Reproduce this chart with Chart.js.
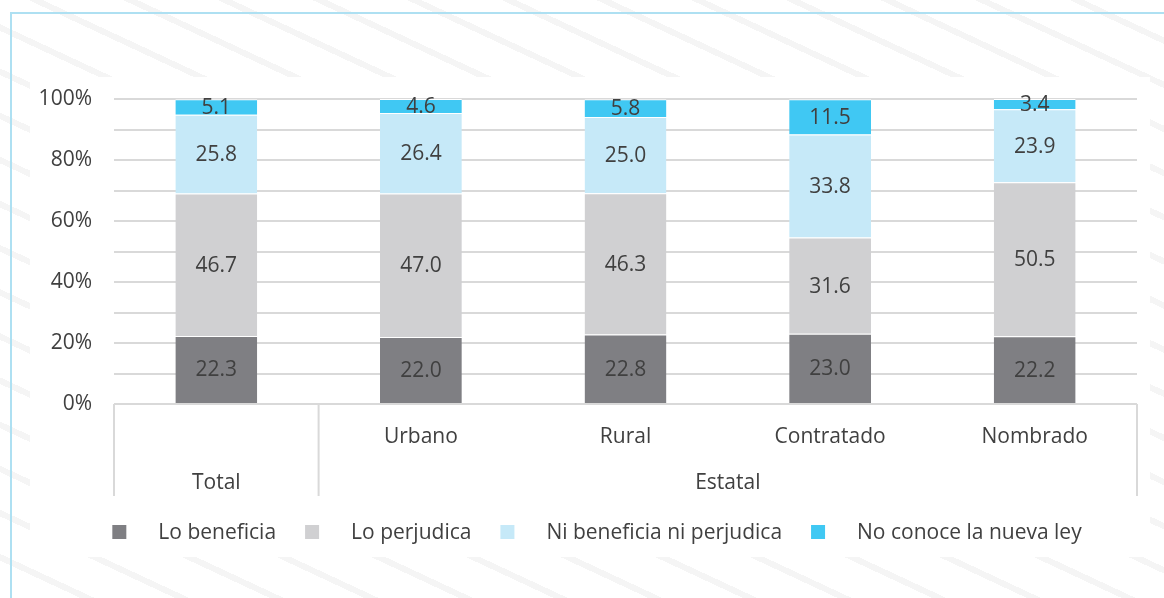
<!DOCTYPE html>
<html>
<head>
<meta charset="utf-8">
<script src="https://cdn.jsdelivr.net/npm/chart.js@4"></script>
<style>
  html, body { margin: 0; padding: 0; }
  body {
    width: 1164px; height: 598px; overflow: hidden; position: relative;
    background: repeating-linear-gradient(25deg, #ffffff 0px, #ffffff 34px, #f5f5f5 34px, #f5f5f5 40px);
  }
  #frame { position: absolute; left: 10px; top: 12px; width: 1200px; height: 700px; border: 2px solid #aee0f2; box-sizing: border-box; }
  #panel { position: absolute; left: 30px; top: 77px; width: 1120px; height: 480px; background: #ffffff; }
  #wrap { position: absolute; left: 0; top: 0; width: 1164px; height: 598px; }
</style>
</head>
<body>
<div id="frame"></div>
<div id="panel"></div>
<div id="wrap"><canvas id="chart" width="1164" height="598"></canvas></div>
<script>
// --- data ---
const categories = ['', 'Urbano', 'Rural', 'Contratado', 'Nombrado'];
const groupLabels = ['Total', 'Estatal'];
const groupSpans = [1, 4];

const seriesNames = ['Lo beneficia', 'Lo perjudica', 'Ni beneficia ni perjudica', 'No conoce la nueva ley'];
const loBeneficia = [22.3, 22.0, 22.8, 23.0, 22.2];
const loPerjudica = [46.7, 47.0, 46.3, 31.6, 50.5];
const niBeneficia = [25.8, 26.4, 25.0, 33.8, 23.9];
const noConoce = [5.1, 4.6, 5.8, 11.5, 3.4];
const seriesColors = ['#7f7f83', '#d0d0d2', '#c6e9f8', '#40c8f3'];

const textColor = '#404040';
const fontFamily = '"Open Sans", sans-serif';
const fontSize = 21;

// values drawn in the middle of each segment
const segmentLabels = {
    id: 'segmentLabels',
    afterDatasetsDraw(chart) {
        const ctx = chart.ctx;
        ctx.save();
        ctx.font = `${fontSize}px ${fontFamily}`;
        ctx.fillStyle = textColor;
        ctx.textAlign = 'center';
        ctx.textBaseline = 'middle';
        chart.data.datasets.forEach((ds, i) => {
            chart.getDatasetMeta(i).data.forEach((bar, j) => {
                ctx.fillText(ds.data[j].toFixed(1), bar.x, (bar.y + bar.base) / 2 + 1);
            });
        });
        ctx.restore();
    }
};

// second row of the category axis (Total / Estatal) and its separators
const groupAxis = {
    id: 'groupAxis',
    afterDraw(chart) {
        const ctx = chart.ctx;
        const x = chart.scales.x;
        const top = chart.chartArea.bottom;
        const bottom = x.bottom;
        ctx.save();
        ctx.strokeStyle = '#d9d9d9';
        ctx.lineWidth = 2;
        let start = 0;
        const edges = [x.getPixelForValue(-0.5)];
        groupSpans.forEach(span => {
            start += span;
            edges.push(x.getPixelForValue(start - 0.5));
        });
        edges.forEach(px => {
            ctx.beginPath();
            ctx.moveTo(px, top);
            ctx.lineTo(px, bottom);
            ctx.stroke();
        });
        ctx.font = `${fontSize}px ${fontFamily}`;
        ctx.fillStyle = textColor;
        ctx.textAlign = 'center';
        ctx.textBaseline = 'middle';
        groupLabels.forEach((label, i) => {
            ctx.fillText(label, (edges[i] + edges[i + 1]) / 2, top + 79);
        });
        ctx.restore();
    }
};

// legend below the axis, square marker + text
const bottomLegend = {
    id: 'bottomLegend',
    afterDraw(chart) {
        const ctx = chart.ctx;
        ctx.save();
        ctx.font = `${fontSize}px ${fontFamily}`;
        const box = 14, gapText = 32, gapItem = 29;
        const widths = chart.data.datasets.map(ds => box + gapText + ctx.measureText(ds.label).width);
        const total = widths.reduce((a, b) => a + b, 0) + gapItem * (widths.length - 1);
        let x = 597 - total / 2;
        const y = 532;
        ctx.textBaseline = 'middle';
        ctx.textAlign = 'left';
        chart.data.datasets.forEach((ds, i) => {
            ctx.fillStyle = ds.backgroundColor;
            ctx.fillRect(x, y - box / 2, box, box);
            ctx.fillStyle = textColor;
            ctx.fillText(ds.label, x + box + gapText, y + 1);
            x += widths[i] + gapItem;
        });
        ctx.restore();
    }
};

const seriesData = [loBeneficia, loPerjudica, niBeneficia, noConoce];

new Chart(document.getElementById('chart'), {
    type: 'bar',
    data: {
        labels: categories,
        datasets: seriesData.map((values, i) => ({
            label: seriesNames[i],
            data: values,
            backgroundColor: seriesColors[i],
            borderColor: '#ffffff',
            borderWidth: { top: 1, left: 0, right: 0, bottom: 0 },
            borderSkipped: false,
            categoryPercentage: 1.0,
            barPercentage: 0.4
        }))
    },
    options: {
        responsive: false,
        animation: false,
        devicePixelRatio: 1,
        layout: { padding: { top: 99, right: 27, bottom: 102, left: 0 } },
        plugins: {
            legend: { display: false },
            tooltip: { enabled: false }
        },
        scales: {
            x: {
                stacked: true,
                grid: { display: false },
                border: { display: false },
                ticks: {
                    color: textColor,
                    font: { family: fontFamily, size: fontSize },
                    padding: 12,
                    maxRotation: 0
                },
                afterFit: (scale) => { scale.height = 92; }
            },
            y: {
                stacked: true,
                min: 0,
                max: 100,
                grid: { color: '#d9d9d9', lineWidth: 2, drawTicks: false },
                border: { display: false },
                ticks: {
                    stepSize: 10,
                    padding: 22,
                    color: textColor,
                    font: { family: fontFamily, size: fontSize },
                    callback: (v) => (v % 20 === 0 ? v + '%' : '')
                },
                afterFit: (scale) => { scale.width = 114; }
            }
        }
    },
    plugins: [segmentLabels, groupAxis, bottomLegend]
});
</script>
</body>
</html>
